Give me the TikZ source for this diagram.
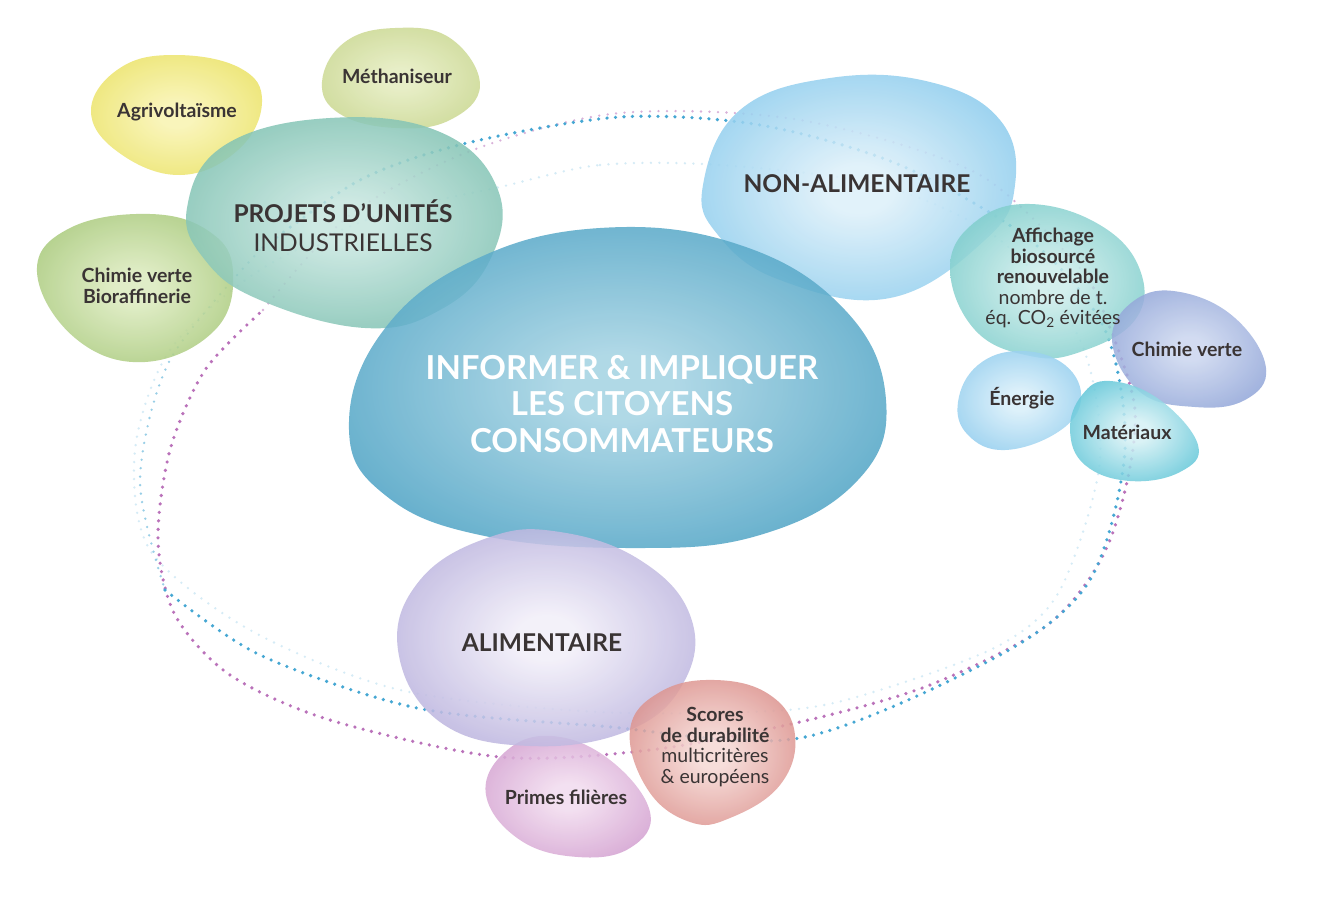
\documentclass[tikz,border=0pt]{standalone}
\usepackage{fontspec}
\setmainfont{Lato}
\usepackage{xcolor}
\usepackage{tikz}
\usetikzlibrary{shadings}
\definecolor{ink}{HTML}{3A3434}
\definecolor{dotblue}{HTML}{45A7D3}
\definecolor{dotpurple}{HTML}{BA72BA}
\definecolor{dotfaint}{HTML}{B3DCEF}
\definecolor{agriout}{HTML}{E8DF55}
\definecolor{agriin}{HTML}{F9F4B0}
\definecolor{methout}{HTML}{C3D284}
\definecolor{methin}{HTML}{E4ECBE}
\definecolor{projout}{HTML}{6DB8A6}
\definecolor{projin}{HTML}{C6E6DF}
\definecolor{biorout}{HTML}{9DC26C}
\definecolor{biorin}{HTML}{DCEBBE}
\definecolor{coreout}{HTML}{3A98BE}
\definecolor{corein}{HTML}{A4D3E3}
\definecolor{nonout}{HTML}{78C3EA}
\definecolor{nonin}{HTML}{DDF0FA}
\definecolor{affout}{HTML}{6CC6C4}
\definecolor{affin}{HTML}{CDEDEB}
\definecolor{chimout}{HTML}{869CD4}
\definecolor{chimin}{HTML}{CBD6EF}
\definecolor{enerout}{HTML}{83C6EC}
\definecolor{enerin}{HTML}{D8EFFA}
\definecolor{matout}{HTML}{48BDD2}
\definecolor{matin}{HTML}{D6F1F5}
\definecolor{alimout}{HTML}{ACA3D7}
\definecolor{alimin}{HTML}{F2EFF9}
\definecolor{scoreout}{HTML}{D57F7A}
\definecolor{scorein}{HTML}{F6D9D5}
\definecolor{primeout}{HTML}{CD94CA}
\definecolor{primein}{HTML}{F2DCEF}
\colorlet{blobin}{white}
\colorlet{blobout}{gray}
\pgfdeclareradialshading[blobin,blobout]{blobglow}{\pgfpoint{0bp}{0bp}}{color(0bp)=(blobin); color(5bp)=(blobin); color(33bp)=(blobout); color(50bp)=(blobout)}
\tikzset{
  blob/.style 2 args={/utils/exec={\colorlet{blobin}{#1}\colorlet{blobout}{#2}}, shading=blobglow, fill opacity=0.86},
  orbit/.style={line width=3.6pt, line cap=round, dash pattern=on 0pt off 8.5pt},
  faintorbit/.style={line width=2.6pt, line cap=round, dash pattern=on 0pt off 8.5pt, draw opacity=0.55},
  tag/.style={text=ink, align=center, font=\fontsize{19.5}{21}\selectfont\bfseries},
  note/.style={text=ink, align=center, font=\fontsize{19.5}{20.5}\selectfont},
  head/.style={text=ink, align=center, font=\fontsize{24.5}{29}\selectfont\bfseries},
  core/.style={text=white, align=center, font=\fontsize{33}{36.5}\selectfont\bfseries}
}

\begin{document}
\begin{tikzpicture}[x=1pt, y=-1pt]
  \useasboundingbox[fill=white] (0,0) rectangle (1320,897);

  % dotted orbits
  \draw[faintorbit, dotfaint] plot[smooth cycle] coordinates {(500,187) (600,165) (720,165) (880,185) (1000,240) (1080,340) (1100,460) (1060,590) (1000,645) (880,690) (787,710) (600,712) (400,690) (250,630) (150,550) (135,450) (170,350) (260,270) (380,215)};
  \draw[faintorbit, dotpurple] plot[smooth] coordinates {(263,310) (350,215) (473,150) (620,113) (800,120) (980,175) (1090,280)};
  \draw[orbit, dotpurple] plot[smooth] coordinates {(1090,280) (1135,410) (1110,540) (1050,623) (930,685) (800,722) (650,750) (500,757) (330,720) (230,675) (175,615) (158,540) (170,450) (205,370) (263,310)};
  \draw[faintorbit, dotblue] plot[smooth] coordinates {(260,250) (170,360) (140,480) (165,590)};
  \draw[orbit, dotblue] plot[smooth] coordinates {(165,590) (260,655) (417,708) (600,726) (800,738) (1000,655) (1090,580) (1125,450) (1105,330) (1030,240) (900,165) (760,125) (620,117) (467,143) (360,180) (260,250)};

  % blobs
  \shade[blob={agriin}{agriout}] plot[smooth cycle, tension=0.7] coordinates {(91,110) (120,68) (175,55) (240,68) (262,102) (238,150) (180,175) (118,152)};
  \shade[blob={methin}{methout}] plot[smooth cycle, tension=0.7] coordinates {(322,82) (345,42) (395,28) (450,38) (480,85) (450,120) (395,128) (340,114)};
  \shade[blob={biorin}{biorout}] plot[smooth cycle, tension=0.7] coordinates {(37,272) (70,228) (150,214) (210,232) (233,272) (215,330) (145,362) (75,338)};
  \shade[blob={projin}{projout}] plot[smooth cycle, tension=0.7] coordinates {(187,208) (225,145) (330,118) (440,132) (498,190) (490,260) (440,310) (365,328) (260,300) (205,260)};
  \shade[blob={nonin}{nonout}] plot[smooth cycle, tension=0.7] coordinates {(703,185) (740,110) (830,78) (930,82) (1000,120) (1015,185) (985,240) (890,298) (780,280) (718,235)};
  \shade[blob={affin}{affout}] plot[smooth cycle, tension=0.7] coordinates {(950,268) (975,222) (1030,204) (1100,225) (1140,270) (1135,320) (1080,352) (1030,356) (975,330)};
  \shade[blob={corein}{coreout}] plot[smooth cycle, tension=0.7] coordinates {(349,430) (380,335) (470,262) (600,228) (740,245) (845,310) (886,400) (858,480) (760,535) (630,548) (480,535) (385,495)};
  \shade[blob={chimin}{chimout}] plot[smooth cycle, tension=0.7] coordinates {(1112,340) (1135,300) (1180,292) (1235,318) (1266,368) (1245,400) (1195,407) (1140,392)};
  \shade[blob={enerin}{enerout}] plot[smooth cycle, tension=0.7] coordinates {(958,402) (978,365) (1020,351) (1065,365) (1081,400) (1058,432) (1005,450) (968,435)};
  \shade[blob={matin}{matout}] plot[smooth cycle, tension=0.7] coordinates {(1070,430) (1082,395) (1110,381) (1160,400) (1198,445) (1180,472) (1130,481) (1085,465)};
  \shade[blob={primein}{primeout}] plot[smooth cycle, tension=0.7] coordinates {(486,795) (505,752) (552,736) (610,760) (650,812) (630,848) (578,857) (520,840)};
  \shade[blob={alimin}{alimout}] plot[smooth cycle, tension=0.7] coordinates {(398,650) (420,580) (490,537) (560,532) (640,560) (690,615) (685,680) (630,730) (530,746) (440,722)};
  \shade[blob={scorein}{scoreout}] plot[smooth cycle, tension=0.7] coordinates {(630,730) (660,692) (715,680) (770,695) (795,735) (780,785) (730,818) (690,822) (648,790)};

  % labels
  \node[tag] (agri) at (177,112) {Agrivoltaïsme};
  \node[tag] (meth) at (397,76) {Méthaniseur};
  \node[tag] (bior) at (137,286) {Chimie verte\\Bioraffinerie};
  \node[head] (proj) at (343,226) {PROJETS D’UNITÉS\\\mdseries INDUSTRIELLES};
  \node[core] (informer) at (622,404) {INFORMER \& IMPLIQUER\\LES CITOYENS\\CONSOMMATEURS};
  \node[head] (nonalim) at (857,184) {NON-ALIMENTAIRE};
  \node[note] (affichage) at (1053,278) {\textbf{Affichage}\\\textbf{biosourcé}\\\textbf{renouvelable}\\nombre de t.\\éq. CO\textsubscript{2} évitées};
  \node[tag] (chimie) at (1187,349) {Chimie verte};
  \node[tag] (energie) at (1022,398) {Énergie};
  \node[tag] (materiaux) at (1127,432) {Matériaux};
  \node[head] (alim) at (542,643) {ALIMENTAIRE};
  \node[note] (scores) at (715,747) {\textbf{Scores}\\\textbf{de durabilité}\\multicritères\\\& européens};
  \node[tag] (primes) at (566,797) {Primes filières};
\end{tikzpicture}
\end{document}
